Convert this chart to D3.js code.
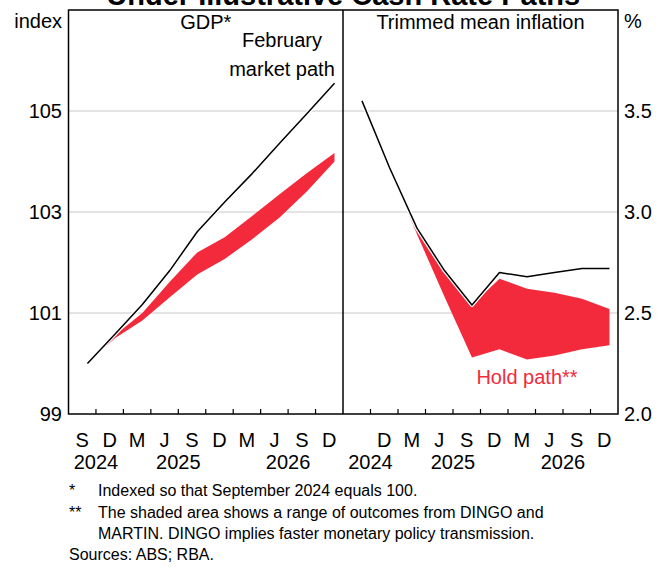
<!DOCTYPE html>
<html>
<head>
<meta charset="utf-8">
<script src="https://cdn.jsdelivr.net/npm/d3@7"></script>
<style>
  body { margin: 0; background: #fff; }
  svg { display: block; font-family: Arial, "Liberation Sans", sans-serif; }
</style>
</head>
<body>
<svg id="chart" width="667" height="567"></svg>
<script>
// quarters shown in each panel
const quarters = ["2024Q3","2024Q4","2025Q1","2025Q2","2025Q3","2025Q4","2026Q1","2026Q2","2026Q3","2026Q4"];
const quarterLetters = ["S","D","M","J","S","D","M","J","S","D"];
const years = ["2024","2025","2026"];

// GDP, index (Sep 2024 = 100)
const gdpMarket   = [100.0, 100.58, 101.17, 101.84, 102.61, 103.20, 103.76, 104.36, 104.95, 105.55];
const gdpHoldLow  = [100.0, 100.50, 100.85, 101.31, 101.76, 102.07, 102.46, 102.89, 103.41, 104.00];
const gdpHoldHigh = [100.0, 100.56, 101.00, 101.62, 102.20, 102.50, 102.92, 103.35, 103.77, 104.17];

// trimmed mean inflation, %
const inflMarket   = [3.55, 3.22, 2.92, 2.71, 2.54, 2.70, 2.68, 2.70, 2.72, 2.72];
const inflHoldLow  = [3.55, 3.22, 2.89, 2.58, 2.28, 2.32, 2.27, 2.29, 2.32, 2.34];
const inflHoldHigh = [3.55, 3.22, 2.91, 2.70, 2.54, 2.67, 2.62, 2.60, 2.57, 2.52];

const leftTicks = [99, 101, 103, 105];
const rightTicks = [2.0, 2.5, 3.0, 3.5];

const red = "#f22a3b";
const grid = "#c8c8c8";

const svg = d3.select("#chart");
const plotTop = 10, plotBottom = 414;
const x0 = 68.5, xMid = 343, x1 = 618;

const yL = d3.scaleLinear().domain([99, 107]).range([plotBottom, plotTop]);
const yR = d3.scaleLinear().domain([2, 4]).range([plotBottom, plotTop]);
const xL = d3.scaleBand().domain(quarters).range([x0, xMid]);
const xR = d3.scaleBand().domain(quarters).range([xMid, x1]);

// data points sit late in each quarter band
const px = (xs, q) => xs(q) + xs.bandwidth() * 0.69;

// title (top line cropped off in the original)
svg.append("text")
  .attr("x", (x0 + x1) / 2).attr("y", 5)
  .attr("text-anchor", "middle")
  .style("font-weight", "bold").style("font-size", "29px")
  .text("Under Illustrative Cash Rate Paths");

// gridlines
svg.append("g").selectAll("line")
  .data(leftTicks.filter(d => d > 99))
  .join("line")
  .attr("x1", x0).attr("x2", x1)
  .attr("y1", d => yL(d)).attr("y2", d => yL(d))
  .attr("stroke", grid).attr("stroke-width", 1);

function drawPanel(xs, ys, low, high, mid) {
  const area = d3.area()
    .x((d, i) => px(xs, quarters[i]))
    .y0((d, i) => ys(low[i]))
    .y1((d, i) => ys(high[i]));
  svg.append("path").datum(low).attr("d", area).attr("fill", red);

  const line = d3.line()
    .x((d, i) => px(xs, quarters[i]))
    .y(d => ys(d));
  svg.append("path").datum(mid).attr("d", line)
    .attr("fill", "none").attr("stroke", "#fff").attr("stroke-width", 4)
    .attr("stroke-linejoin", "round");
  svg.append("path").datum(mid).attr("d", line)
    .attr("fill", "none").attr("stroke", "#000").attr("stroke-width", 1.5)
    .attr("stroke-linejoin", "round");
}

drawPanel(xL, yL, gdpHoldLow, gdpHoldHigh, gdpMarket);
drawPanel(xR, yR, inflHoldLow, inflHoldHigh, inflMarket);

// x axes: tick marks between quarters
[xL, xR].forEach(xs => {
  svg.append("g").selectAll("line")
    .data(quarters.slice(1))
    .join("line")
    .attr("x1", d => xs(d)).attr("x2", d => xs(d))
    .attr("y1", plotBottom).attr("y2", plotBottom - 5)
    .attr("stroke", "#000").attr("stroke-width", 1.2);
});

// frame
svg.append("rect")
  .attr("x", x0).attr("y", plotTop)
  .attr("width", x1 - x0).attr("height", plotBottom - plotTop)
  .attr("fill", "none").attr("stroke", "#000").attr("stroke-width", 1.5);
svg.append("line")
  .attr("x1", xMid).attr("x2", xMid).attr("y1", plotTop).attr("y2", plotBottom)
  .attr("stroke", "#000").attr("stroke-width", 1.5);

const txt = (x, y, s, anchor, size) => svg.append("text")
  .attr("x", x).attr("y", y).attr("text-anchor", anchor || "start")
  .style("font-size", (size || 20) + "px").text(s);

// y tick labels
svg.append("g").selectAll("text")
  .data(leftTicks).join("text")
  .attr("x", 62).attr("y", d => yL(d) + 7)
  .attr("text-anchor", "end").style("font-size", "20px")
  .text(d => d);
svg.append("g").selectAll("text")
  .data(rightTicks).join("text")
  .attr("x", 624).attr("y", d => yR(d) + 7)
  .style("font-size", "20px")
  .text(d => d.toFixed(1));

txt(62, 28, "index", "end");
txt(624, 28, "%");

// quarter letters and years
quarters.forEach((q, i) => {
  txt(xL(q) + xL.bandwidth() / 2, 447, quarterLetters[i], "middle");
  if (i > 0) txt(xR(q) + xR.bandwidth() / 2, 447, quarterLetters[i], "middle");
});
function yearLabels(xs) {
  years.forEach(y => {
    const qs = quarters.filter(q => q.startsWith(y));
    const a = xs(qs[0]), b = xs(qs[qs.length - 1]) + xs.bandwidth();
    txt((a + b) / 2, 469, y, "middle");
  });
}
yearLabels(xL);
yearLabels(xR);

// panel titles and annotations
txt((x0 + xMid) / 2, 29, "GDP*", "middle");
txt((xMid + x1) / 2, 29, "Trimmed mean inflation", "middle");
txt(282, 47, "February", "middle");
txt(282, 76, "market path", "middle");
txt(527, 384, "Hold path**", "middle").attr("fill", red);

// footnotes
txt(69, 496, "*", "start", 16);
txt(98, 496, "Indexed so that September 2024 equals 100.", "start", 16);
txt(69, 517.5, "**", "start", 16);
txt(98, 517.5, "The shaded area shows a range of outcomes from DINGO and", "start", 16);
txt(98, 539, "MARTIN. DINGO implies faster monetary policy transmission.", "start", 16);
txt(69, 560, "Sources: ABS; RBA.", "start", 16);
</script>
</body>
</html>
